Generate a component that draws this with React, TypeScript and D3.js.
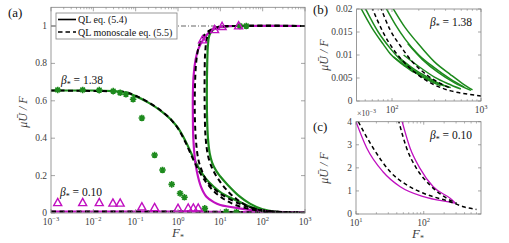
import React from 'react';
import * as d3 from 'd3';

type P = [number, number];

const GREEN = '#1d8a1d';
const MAG = '#c010c0';
const AXIS = '#808080';
const TXT = '#404040';
const FONT = '"Liberation Serif", "DejaVu Serif", serif';

// ---------- Panel (a) data ----------
const aXDecades = [-3, -2, -1, 0, 1, 2, 3];
const aYTicks = [0, 0.2, 0.4, 0.6, 0.8, 1];
const aYTickLabels = ['0', '0.2', '0.4', '0.6', '0.8', '1'];

const greenLowQL: P[] = [[1e-3, 0.655], [0.01, 0.655], [0.03, 0.652], [0.06, 0.643], [0.1, 0.625], [0.2, 0.59], [0.4, 0.545], [0.7, 0.497], [1.0, 0.455], [1.5, 0.385], [2.2, 0.305], [3.2, 0.235], [4.5, 0.185], [7, 0.14], [11, 0.105], [16, 0.085], [28, 0.06], [50, 0.035], [100, 0.015], [300, 0.004], [1000, 0.001]];
const greenUpQL: P[] = [[1000, 1.0], [30, 1.0], [12, 0.998], [8, 0.99], [6.4, 0.975], [5.5, 0.95], [5.1, 0.9], [4.9, 0.8], [4.8, 0.65], [4.85, 0.52], [5.1, 0.4], [5.6, 0.32], [6.4, 0.27], [8, 0.225], [10, 0.195], [15, 0.15], [28, 0.09], [50, 0.05], [100, 0.02], [200, 0.008], [1000, 0.001]];
const magUpQL: P[] = [[1000, 1.0], [30, 1.0], [12, 0.998], [8, 0.99], [5.5, 0.967], [3.9, 0.925], [3.0, 0.875], [2.6, 0.82], [2.35, 0.74], [2.25, 0.64], [2.25, 0.5], [2.3, 0.4], [2.48, 0.3], [2.8, 0.22], [3.5, 0.14], [4.7, 0.087], [7, 0.058], [10, 0.043], [28, 0.025], [100, 0.01], [1000, 0.002]];
const magLowQL: P[] = [[1e-3, 0.008], [1, 0.008], [10, 0.006], [100, 0.003], [1000, 0.001]];

const dashLow: P[] = [[1e-3, 0.655], [0.05, 0.649], [0.1, 0.627], [0.2, 0.592], [0.4, 0.547], [0.7, 0.497], [1.0, 0.452], [1.5, 0.378], [2.2, 0.295], [3.2, 0.22], [4.5, 0.168], [7, 0.117], [12, 0.075], [20, 0.048], [40, 0.026], [100, 0.01], [1000, 0.0015]];
const dashMag: P[] = [[1000, 1.0], [25, 1.0], [9, 0.995], [5.5, 0.975], [3.8, 0.94], [3.1, 0.89], [2.7, 0.81], [2.52, 0.68], [2.5, 0.52], [2.65, 0.39], [3.0, 0.29], [3.6, 0.23], [5, 0.165], [8, 0.12], [11, 0.097], [28, 0.05], [60, 0.025], [150, 0.01], [1000, 0.002]];
const dashGreen: P[] = [[1000, 1.0], [20, 1.0], [9, 0.993], [6.2, 0.975], [4.9, 0.94], [4.4, 0.86], [4.25, 0.72], [4.28, 0.55], [4.5, 0.4], [5.2, 0.3], [6.7, 0.23], [10, 0.165], [16, 0.11], [24, 0.075], [40, 0.042], [70, 0.02], [150, 0.008], [1000, 0.001]];
const dashMagLow: P[] = [[1e-3, 0.008], [1, 0.008], [10, 0.006], [100, 0.003], [1000, 0.001]];

const greenStars: P[] = [[1.44e-3, 0.658], [5.6e-3, 0.658], [0.0138, 0.657], [0.0295, 0.652], [0.043, 0.643], [0.059, 0.635], [0.087, 0.608], [0.14, 0.508], [0.28, 0.31], [0.43, 0.23], [0.71, 0.153], [1.12, 0.105], [1.42, 0.084], [4.3, 0.025], [13.8, 0.007], [24, 0.004], [29, 1.0], [41, 1.0]];
const magTriangles: P[] = [[1.44e-3, 0.055], [5.6e-3, 0.055], [0.0138, 0.055], [0.029, 0.052], [0.043, 0.052], [0.14, 0.032], [0.28, 0.028], [1.0, 0.024], [1.74, 0.026], [2.3, 0.026], [3.0, 0.026], [3.8, 0.925], [7.3, 0.98], [11, 0.997], [27, 1.0]];

// ---------- Panel (b) data ----------
const bYTicks = [0, 0.005, 0.01, 0.015, 0.02];
const bYTickLabels = ['0', '0.005', '0.01', '0.015', '0.02'];
const bXDecades = [2, 3];
const bGreen: P[][] = [
  [[43.8, 0.0205], [60, 0.0158], [80, 0.0123], [96, 0.0102], [130, 0.008], [176, 0.0062]],
  [[49, 0.0205], [70, 0.015], [95, 0.0115], [124, 0.009], [180, 0.0065], [260, 0.0047], [384, 0.0033]],
  [[84, 0.0205], [110, 0.0165], [141, 0.0134], [200, 0.01], [296, 0.0073], [450, 0.0048], [648, 0.003]],
  [[100, 0.0205], [140, 0.016], [192, 0.0127], [300, 0.0085], [457, 0.0057], [620, 0.0038], [803, 0.0024]],
  [[150, 0.0125], [220, 0.009], [330, 0.0062], [500, 0.004], [770, 0.0023]],
  [[135, 0.01], [200, 0.0075], [300, 0.0052], [420, 0.0038], [594, 0.0026]],
  [[124, 0.0092], [180, 0.0068], [260, 0.005], [350, 0.0037], [457, 0.0029]],
  [[104, 0.0096], [150, 0.0073], [220, 0.0052], [352, 0.0033]],
];
const bDash: P[][] = [
  [[59, 0.0205], [80, 0.0148], [104, 0.0112], [140, 0.0082], [192, 0.0058], [300, 0.0035], [457, 0.0022], [700, 0.0015], [1000, 0.0011]],
  [[74, 0.0205], [95, 0.0155], [124, 0.012], [170, 0.0085], [249, 0.0056], [350, 0.0038], [457, 0.0028]],
];

// ---------- Panel (c) data ----------
const cYTicks = [0, 0.001, 0.002, 0.003, 0.004];
const cYTickLabels = ['0', '1', '2', '3', '4'];
const cXDecades = [1, 2];
const cMag: P[][] = [
  [[10, 0.004], [14.4, 0.00286], [25, 0.00183], [45, 0.00118], [99, 0.00075], [245, 0.00051], [290, 0.00047]],
  [[47, 0.0041], [63, 0.00285], [88, 0.00198], [138, 0.00118], [245, 0.00068], [290, 0.00049]],
];
const cDash: P[][] = [
  [[10.8, 0.004], [18, 0.00285], [32, 0.00183], [56, 0.00126], [99, 0.0009], [245, 0.00053], [400, 0.0003], [600, 0.0002]],
  [[42, 0.0041], [56, 0.00285], [78, 0.00198], [123, 0.00126], [219, 0.00068], [307, 0.00046]],
];

const minorsBetween = (lo: number, hi: number) => {
  const out: number[] = [];
  for (let e = Math.floor(Math.log10(lo)) - 1; e <= Math.ceil(Math.log10(hi)); e++) {
    for (let m = 2; m <= 9; m++) {
      const v = m * Math.pow(10, e);
      if (v > lo * 1.0001 && v < hi * 0.9999) out.push(v);
    }
  }
  return out;
};

const sup = (e: number) => (e < 0 ? '\u2212' + Math.abs(e) : String(e));

type AxProps = {
  id: string;
  xs: d3.ScaleLogarithmic<number, number>;
  ys: d3.ScaleLinear<number, number>;
  decades: number[];
  yTicks: number[];
  yLabels: string[];
  major: number;
  minor: number;
  children?: React.ReactNode;
};

function Axes({ id, xs, ys, decades, yTicks, yLabels, major, minor, children }: AxProps) {
  const [x0, x1] = xs.range();
  const [y0, y1] = ys.range();
  const [d0, d1] = xs.domain();
  const minors = minorsBetween(d0, d1);
  return (
    <g>
      <defs>
        <clipPath id={id}>
          <rect x={x0} y={y1} width={x1 - x0} height={y0 - y1} />
        </clipPath>
      </defs>
      <rect x={x0} y={y1} width={x1 - x0} height={y0 - y1} fill="white" />
      <g clipPath={`url(#${id})`}>{children}</g>
      <rect x={x0} y={y1} width={x1 - x0} height={y0 - y1} fill="none" stroke={AXIS} strokeWidth={0.8} />
      {minors.map((v, i) => (
        <g key={'m' + i} stroke={AXIS} strokeWidth={0.6}>
          <line x1={xs(v)} x2={xs(v)} y1={y0} y2={y0 - minor} />
          <line x1={xs(v)} x2={xs(v)} y1={y1} y2={y1 + minor} />
        </g>
      ))}
      {decades.map((e) => {
        const xx = xs(Math.pow(10, e));
        return (
          <g key={'d' + e}>
            <line x1={xx} x2={xx} y1={y0} y2={y0 - major} stroke={AXIS} strokeWidth={0.7} />
            <line x1={xx} x2={xx} y1={y1} y2={y1 + major} stroke={AXIS} strokeWidth={0.7} />
            <text x={xx} y={y0 + 11.5} textAnchor="middle" fontSize={9.5} fill={TXT} fontFamily={FONT}>
              10<tspan dy={-4} fontSize={6.5}>{sup(e)}</tspan>
            </text>
          </g>
        );
      })}
      {yTicks.map((v, i) => {
        const yy = ys(v);
        return (
          <g key={'y' + i}>
            <line x1={x0} x2={x0 + major} y1={yy} y2={yy} stroke={AXIS} strokeWidth={0.7} />
            <line x1={x1} x2={x1 - major} y1={yy} y2={yy} stroke={AXIS} strokeWidth={0.7} />
            <text x={x0 - 4} y={yy + 3} textAnchor="end" fontSize={9.5} fill={TXT} fontFamily={FONT}>
              {yLabels[i]}
            </text>
          </g>
        );
      })}
    </g>
  );
}

function YLabel({ x, y }: { x: number; y: number }) {
  return (
    <text transform={`translate(${x},${y}) rotate(-90)`} textAnchor="middle" fontSize={12} fill={TXT} fontFamily={FONT} fontStyle="italic">
      μŪ / F
    </text>
  );
}

function XLabel({ x, y }: { x: number; y: number }) {
  return (
    <text x={x} y={y} textAnchor="middle" fontSize={13} fill={TXT} fontFamily={FONT} fontStyle="italic">
      F<tspan dy={2.5} fontSize={8} fontStyle="normal">*</tspan>
    </text>
  );
}

function Beta({ x, y, val }: { x: number; y: number; val: string }) {
  return (
    <text x={x} y={y} fontSize={11.5} fill="#111" fontFamily={FONT}>
      <tspan fontStyle="italic">β</tspan>
      <tspan dy={3} fontSize={8}>*</tspan>
      <tspan dy={-3}>{' = ' + val}</tspan>
    </text>
  );
}

function starPath(cx: number, cy: number, r: number) {
  const d = r * 0.7071;
  return `M${cx - r},${cy}L${cx + r},${cy}M${cx},${cy - r}L${cx},${cy + r}M${cx - d},${cy - d}L${cx + d},${cy + d}M${cx - d},${cy + d}L${cx + d},${cy - d}`;
}
function triPath(cx: number, cy: number, s: number) {
  const h = s * 0.9;
  return `M${cx},${cy - h * 0.6}L${cx + s / 2},${cy + h * 0.4}L${cx - s / 2},${cy + h * 0.4}Z`;
}

export default function App() {
  const ax = d3.scaleLog().domain([1e-3, 1e3]).range([51, 305]);
  const ay = d3.scaleLinear().domain([0, 1.1]).range([213, 7.3]);
  const aLine = d3.line<P>().x((d) => ax(d[0])).y((d) => ay(d[1])).curve(d3.curveCatmullRom.alpha(0.5));
  const aMono = d3.line<P>().x((d) => ax(d[0])).y((d) => ay(d[1])).curve(d3.curveMonotoneX);

  const bx = d3.scaleLog().domain([40, 1000]).range([356.6, 481]);
  const by = d3.scaleLinear().domain([0, 0.02]).range([101, 9]);
  const bLine = d3.line<P>().x((d) => bx(d[0])).y((d) => by(d[1])).curve(d3.curveMonotoneX);

  const cx = d3.scaleLog().domain([10, 700]).range([356, 481]);
  const cy = d3.scaleLinear().domain([0, 0.004]).range([214, 121.7]);
  const cLine = d3.line<P>().x((d) => cx(d[0])).y((d) => cy(d[1])).curve(d3.curveMonotoneX);

  const solidA = { fill: 'none', strokeWidth: 2.2, strokeLinejoin: 'round' as const };
  const dashA = { fill: 'none', stroke: '#000', strokeWidth: 2, strokeDasharray: '5,3.5' };

  return (
    <svg width={509} height={243} style={{ position: 'absolute', left: 0, top: 0, background: 'white' }}>
      <rect width={509} height={243} fill="white" />
      <Axes id="clipA" xs={ax} ys={ay} decades={aXDecades} yTicks={aYTicks} yLabels={aYTickLabels} major={4} minor={2}>
        <line x1={ax(1e-3)} x2={ax(1e3)} y1={ay(1)} y2={ay(1)} stroke="#222" strokeWidth={0.7} strokeDasharray="5,2,1,2" />
        <path d={aMono(greenLowQL) || ''} stroke={GREEN} {...solidA} />
        <path d={aLine(greenUpQL) || ''} stroke={GREEN} {...solidA} />
        <path d={aLine(magUpQL) || ''} stroke={MAG} {...solidA} />
        <path d={aMono(magLowQL) || ''} stroke={MAG} {...solidA} />
        <path d={aMono(dashLow) || ''} {...dashA} />
        <path d={aLine(dashMag) || ''} {...dashA} />
        <path d={aLine(dashGreen) || ''} {...dashA} />
        <path d={aMono(dashMagLow) || ''} {...dashA} />
        {greenStars.map((p, i) => (
          <path key={'s' + i} d={starPath(ax(p[0]), ay(p[1]), 3.3)} stroke={GREEN} strokeWidth={1.6} fill="none" />
        ))}
        {magTriangles.map((p, i) => (
          <path key={'t' + i} d={triPath(ax(p[0]), ay(p[1]), 8)} stroke={MAG} strokeWidth={1.4} fill="none" />
        ))}
      </Axes>
      <rect x={56} y={13} width={121} height={26} fill="white" stroke={AXIS} strokeWidth={0.8} />
      <line x1={58} x2={76} y1={19.5} y2={19.5} stroke="#000" strokeWidth={1.6} />
      <line x1={58} x2={76} y1={32} y2={32} stroke="#000" strokeWidth={1.6} strokeDasharray="4.5,3" />
      <text x={78} y={23} fontSize={10} fill="#111" fontFamily={FONT}>QL eq. (5.4)</text>
      <text x={78} y={35.5} fontSize={10} fill="#111" fontFamily={FONT}>QL monoscale eq. (5.5)</text>
      <Beta x={61} y={84} val="1.38" />
      <Beta x={60} y={196} val="0.10" />
      <YLabel x={27} y={112} />
      <XLabel x={178} y={237} />
      <text x={8} y={17} fontSize={13} fill="#111" fontFamily={FONT}>(a)</text>

      <Axes id="clipB" xs={bx} ys={by} decades={bXDecades} yTicks={bYTicks} yLabels={bYTickLabels} major={3} minor={1.8}>
        {bGreen.map((c, i) => (
          <path key={'bg' + i} d={bLine(c) || ''} stroke={GREEN} fill="none" strokeWidth={1.5} />
        ))}
        {bDash.map((c, i) => (
          <path key={'bd' + i} d={bLine(c) || ''} stroke="#000" fill="none" strokeWidth={1.5} strokeDasharray="4,3" />
        ))}
      </Axes>
      <Beta x={430} y={26} val="1.38" />
      <YLabel x={328} y={55} />
      <text x={313} y={14} fontSize={13} fill="#111" fontFamily={FONT}>(b)</text>

      <Axes id="clipC" xs={cx} ys={cy} decades={cXDecades} yTicks={cYTicks} yLabels={cYTickLabels} major={3} minor={1.8}>
        {cMag.map((c, i) => (
          <path key={'cm' + i} d={cLine(c) || ''} stroke={MAG} fill="none" strokeWidth={1.3} />
        ))}
        {cDash.map((c, i) => (
          <path key={'cd' + i} d={cLine(c) || ''} stroke="#000" fill="none" strokeWidth={1.5} strokeDasharray="4,3" />
        ))}
      </Axes>
      <text x={357} y={116} fontSize={8} fill={TXT} fontFamily={FONT}>
        ×10<tspan dy={-3} fontSize={6}>{'\u22123'}</tspan>
      </text>
      <Beta x={430} y={139} val="0.10" />
      <YLabel x={328} y={168} />
      <XLabel x={418} y={238} />
      <text x={313} y={131} fontSize={13} fill="#111" fontFamily={FONT}>(c)</text>
    </svg>
  );
}
